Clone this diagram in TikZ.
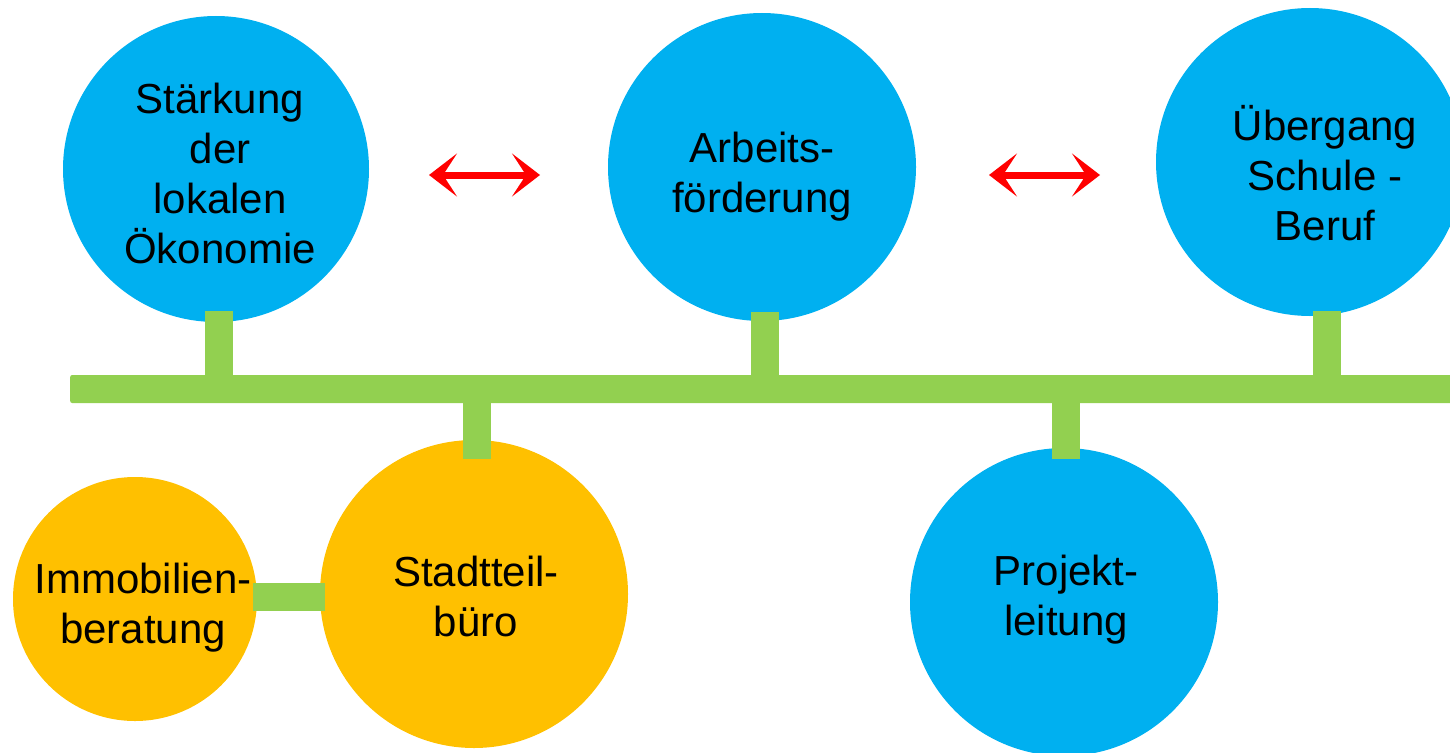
\documentclass[tikz,border=0pt]{standalone}
\usepackage{fontspec}
\setmainfont{Liberation Sans}
\usetikzlibrary{arrows.meta}
\definecolor{cblue}{HTML}{00B0F0}
\definecolor{corange}{HTML}{FFC000}
\definecolor{cgreen}{HTML}{92D050}
\definecolor{cred}{HTML}{FF0000}
\tikzset{
  bluecircle/.style={circle, fill=cblue, draw=none, inner sep=0pt},
  orangecircle/.style={circle, fill=corange, draw=none, inner sep=0pt},
  label text/.style={align=center, font=\fontsize{42}{50}\selectfont, text=black, inner sep=0pt},
  stem/.style={draw=cgreen, line width=28pt, line cap=butt},
  barbox/.style={fill=cgreen, draw=none, rounded corners=2pt, inner sep=0pt},
  redarrow/.style={draw=cred, line width=7pt, {Stealth[length=28pt, width=43pt, inset=14pt]}-{Stealth[length=28pt, width=43pt, inset=14pt]}}
}
\begin{document}
\begin{tikzpicture}[x=1pt, y=-1pt]
\useasboundingbox (0,0) rectangle (1450,752);
\clip (0,0) rectangle (1450,752);
% circles
\node[bluecircle, minimum size=306pt] (s1) at (216,169) {};
\node[bluecircle, minimum size=308pt] (s2) at (762,167) {};
\node[bluecircle, minimum size=308pt] (s3) at (1310,162) {};
\node[orangecircle, minimum size=244pt] (imm) at (135,599) {};
\node[orangecircle, minimum size=308pt] (stb) at (474,594) {};
\node[bluecircle, minimum size=308pt] (pl) at (1064,602) {};
% bar
\node[barbox, minimum width=1400pt, minimum height=28pt, anchor=west] (bar) at (70,389) {};
% stems
\draw[stem] ([xshift=2.5pt, yshift=11pt]s1.south) -- ([xshift=2.5pt]s1.south |- bar.north);
\draw[stem] ([xshift=2.5pt, yshift=9pt]s2.south) -- ([xshift=2.5pt]s2.south |- bar.north);
\draw[stem] ([xshift=17pt, yshift=5pt]s3.south) -- ([xshift=17pt]s3.south |- bar.north);
\draw[stem] ([xshift=3pt]stb.north |- bar.south) -- ([xshift=3pt, yshift=-19pt]stb.north);
\draw[stem] ([xshift=2pt]pl.north |- bar.south) -- ([xshift=2pt, yshift=-11pt]pl.north);
\draw[stem] ([xshift=-4pt, yshift=2pt]imm.east) -- ([xshift=5pt, yshift=2pt]imm.east -| stb.west);
% arrows
\coordinate (a1l) at (429,175);
\coordinate (a1r) at (540,175);
\coordinate (a2l) at (989,175);
\coordinate (a2r) at (1100,175);
\draw[redarrow] (a1l) -- (a1r);
\draw[redarrow] (a2l) -- (a2r);
% texts
\node[label text] (t1) at (220,173) {Stärkung\\der\\lokalen\\Ökonomie};
\node[label text] (t2) at (762,177) {Arbeits-\\förderung};
\node[label text] (t3) at (1325,173) {Übergang\\Schule -\\Beruf};
\node[label text] (t4) at (143,608) {Immobilien-\\beratung};
\node[label text] (t5) at (476,596) {Stadtteil-\\büro};
\node[label text] (t6) at (1066,600) {Projekt-\\leitung};
\end{tikzpicture}
\end{document}
